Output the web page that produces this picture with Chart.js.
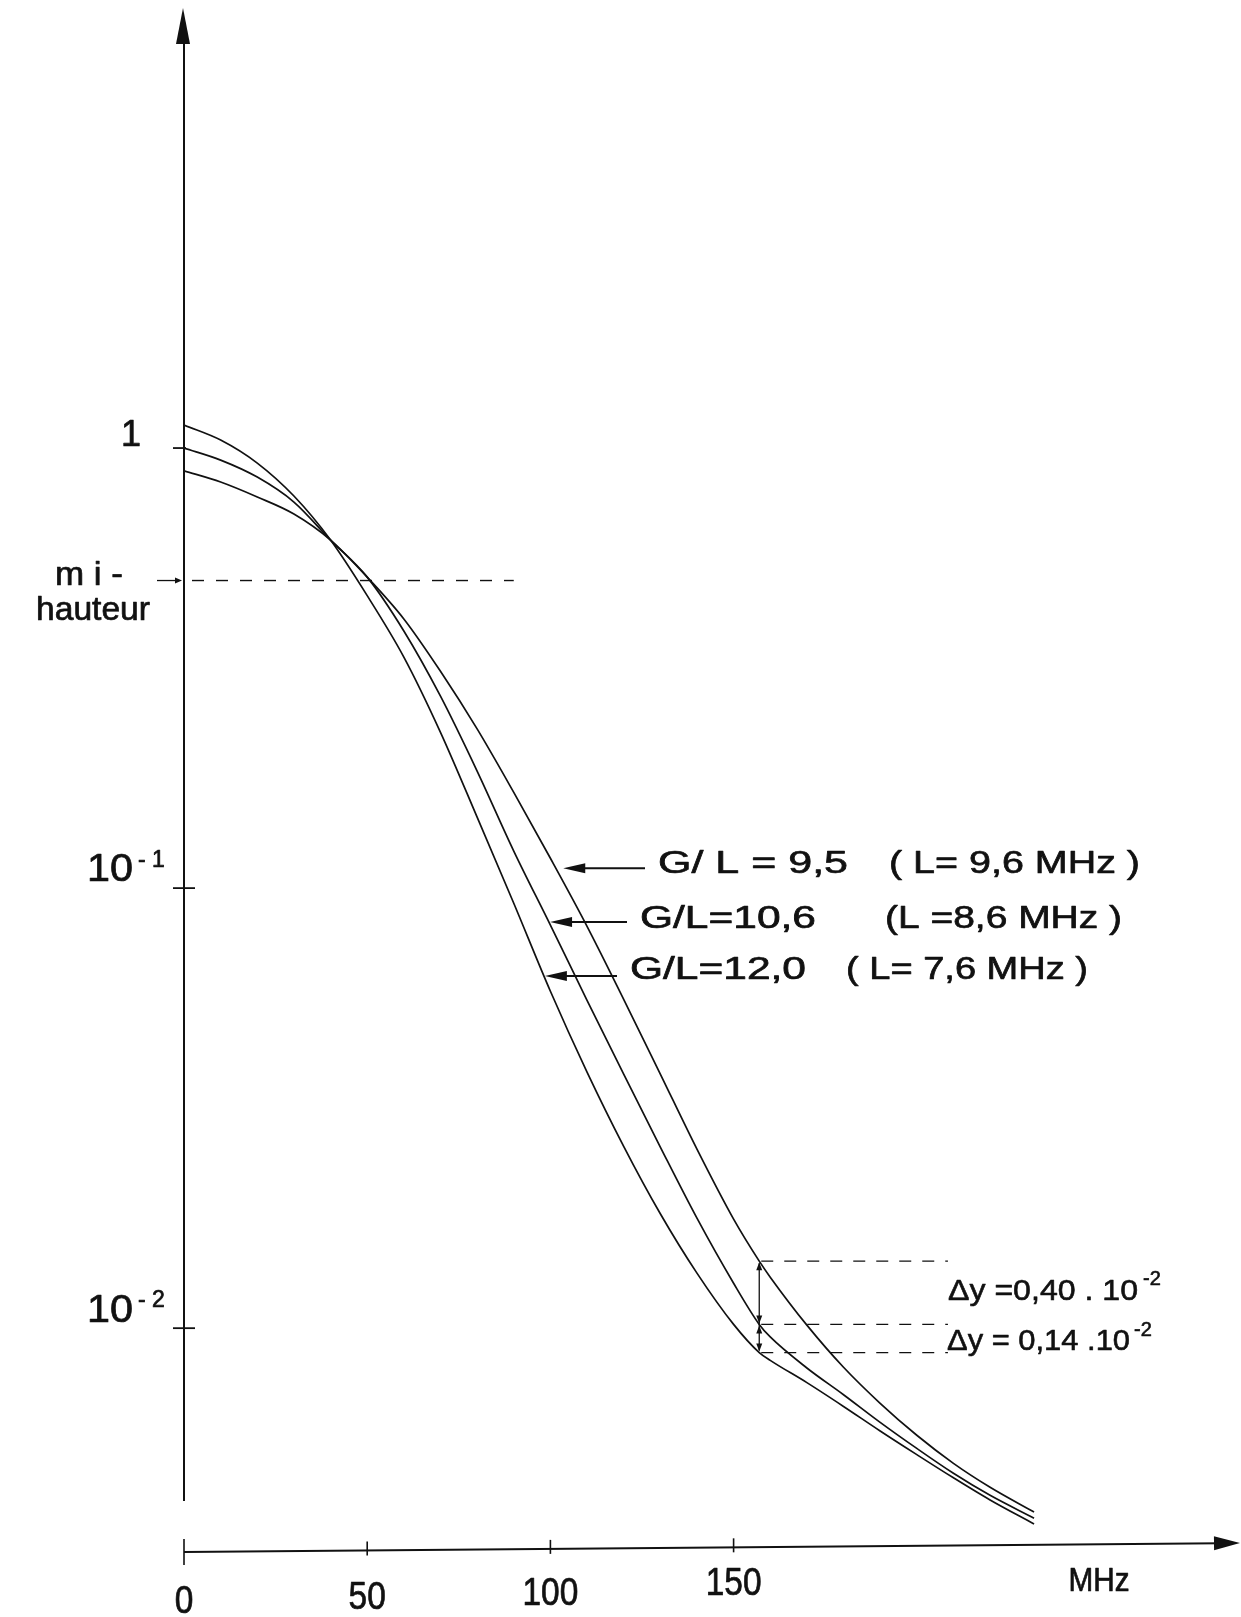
<!DOCTYPE html>
<html>
<head>
<meta charset="utf-8">
<script src="https://cdn.jsdelivr.net/npm/chart.js@4.4.1/dist/chart.umd.min.js"></script>
<style>
  html, body { margin: 0; padding: 0; background: #ffffff; }
  #wrap { width: 1241px; height: 1617px; position: relative; }
</style>
</head>
<body>
<div id="wrap"><canvas id="c"></canvas></div>
<script>
// Frequency grid (MHz) and normalised line-shape amplitude for the three G/L ratios
const freqMHz  = [0, 10, 20, 30, 40, 50, 60, 70, 80, 90, 100, 110, 120, 130, 140, 150, 157, 160, 170, 180, 190, 200, 210, 220, 232];
const ampGL95  = [0.888, 0.837, 0.774, 0.708, 0.618, 0.509, 0.409, 0.311, 0.230, 0.165, 0.1169, 0.0819, 0.0559, 0.0378, 0.02551, 0.01769, 0.0142, 0.01306, 0.01016, 0.00815, 0.00675, 0.00571, 0.00493, 0.00435, 0.00382];
const ampGL106 = [1.000, 0.939, 0.859, 0.754, 0.618, 0.509, 0.384, 0.273, 0.1845, 0.1214, 0.0824, 0.0556, 0.0378, 0.0258, 0.01778, 0.01265, 0.0102, 0.00955, 0.00812, 0.00706, 0.00611, 0.00533, 0.00468, 0.00417, 0.00370];
const ampGL120 = [1.128, 1.043, 0.9245, 0.778, 0.618, 0.462, 0.335, 0.226, 0.145, 0.0924, 0.0583, 0.0382, 0.0259, 0.0182, 0.01334, 0.0102, 0.0088, 0.00845, 0.00752, 0.00664, 0.00584, 0.00516, 0.00457, 0.00407, 0.00359];

// Series captions
const seriesRatio = ['G/ L = 9,5', 'G/L=10,6', 'G/L=12,0'];
const seriesWidth = ['( L= 9,6 MHz )', '(L =8,6 MHz )', '( L= 7,6 MHz )'];
// Point on each curve that its caption arrow touches: [MHz, amplitude]
const captionTipMHz = [103.5, 99.9, 98.5];
const captionTipAmp = [0.111, 0.0838, 0.0631];

// Axes
const xTickValues = [0, 50, 100, 150];
const xTickLabels = ['0', '50', '100', '150'];
const yTickValues = [1, 0.1, 0.01];
const yTickBase   = ['1', '10', '10'];
const yTickExp    = ['', '-1', '-2'];
const halfHeight = 0.5;

// Spread between the curves read at one frequency
const deltaMHz = 157;
const deltaText = ['Δy =0,40 . 10', 'Δy = 0,14 .10'];
const deltaExp = '-2';

const INK = '#111111';
const FONT = '"Liberation Sans", Arial, Helvetica, sans-serif';

function inkText(ctx, s, x, y) {
  ctx.fillText(s, x, y);
  ctx.strokeText(s, x, y);
}

function fitText(ctx, s, x, y, w, size) {
  ctx.save();
  ctx.font = size + 'px ' + FONT;
  const k = w / ctx.measureText(s).width;
  ctx.translate(x, y);
  ctx.scale(k, 1);
  ctx.textAlign = 'left';
  ctx.textBaseline = 'alphabetic';
  inkText(ctx, s, 0, 0);
  ctx.restore();
}

function arrowHead(ctx, tx, ty, dx, dy, len, half) {
  // tip at (tx,ty), pointing along (dx,dy)
  const n = Math.hypot(dx, dy); dx /= n; dy /= n;
  const bx = tx - dx * len, by = ty - dy * len;
  ctx.beginPath();
  ctx.moveTo(tx, ty);
  ctx.lineTo(bx - dy * half, by + dx * half);
  ctx.lineTo(bx + dy * half, by - dx * half);
  ctx.closePath();
  ctx.fill();
}

function valueAt(arr, f) {
  return arr[freqMHz.indexOf(f)];
}

const decorations = {
  id: 'decorations',
  afterDatasetsDraw(chart) {
    const { ctx, chartArea: a, scales: { x, y } } = chart;
    const X = v => x.getPixelForValue(v);
    const Y = v => y.getPixelForValue(v);
    const W = chart.width;
    const x0 = X(0);
    ctx.save();
    ctx.strokeStyle = INK;
    ctx.fillStyle = INK;
    ctx.lineCap = 'butt';
    ctx.lineJoin = 'round';

    // vertical axis with arrow
    ctx.lineWidth = 2;
    ctx.beginPath();
    ctx.moveTo(x0, a.top + 30);
    ctx.lineTo(x0, a.bottom - 51);
    ctx.stroke();
    arrowHead(ctx, x0 - 1, a.top, 0, -1, 36, 7);

    // horizontal axis with arrow (slight slope as drawn by hand)
    const axY = px => a.bottom - (px - x0) * 0.0085;
    ctx.beginPath();
    ctx.moveTo(x0, axY(x0));
    ctx.lineTo(W - 20, axY(W - 20));
    ctx.stroke();
    arrowHead(ctx, W - 1, axY(W - 1), 1, -0.0085, 26, 7);

    // x ticks and labels
    const rise = [0, 4, 8, 18];
    xTickValues.forEach((v, i) => {
      const px = X(v), py = axY(px);
      ctx.lineWidth = 1.6;
      ctx.beginPath();
      ctx.moveTo(px, py - (i === 0 ? 13 : 9));
      ctx.lineTo(px, py + (i === 0 ? 13 : 5));
      ctx.stroke();
      ctx.save();
      ctx.font = '38px ' + FONT;
      ctx.textAlign = 'center';
      ctx.lineWidth = 0.7;
      ctx.translate(px, a.bottom + 61 - rise[i]);
      ctx.scale(0.88, 1);
      inkText(ctx, xTickLabels[i], 0, 0);
      ctx.restore();
    });
    ctx.lineWidth = 0.7;
    ctx.save();
    ctx.font = '33px ' + FONT;
    ctx.textAlign = 'center';
    ctx.translate(1099, a.bottom + 39);
    ctx.scale(0.9, 1);
    inkText(ctx, 'MHz', 0, 0);
    ctx.restore();

    // y ticks and labels
    const drop = [-2, -7, -6];
    yTickValues.forEach((v, i) => {
      const py = Y(v);
      ctx.lineWidth = 1.8;
      ctx.beginPath();
      ctx.moveTo(x0 - 11, py);
      ctx.lineTo(x0 + (i === 0 ? 2 : 11), py);
      ctx.stroke();
      ctx.lineWidth = 0.7;
      ctx.font = '36px ' + FONT;
      if (yTickExp[i] === '') {
        ctx.textAlign = 'center';
        inkText(ctx, yTickBase[i], 131, py + drop[i]);
      } else {
        fitText(ctx, yTickBase[i], 87, py + drop[i], 46, 38);
        ctx.font = '23px ' + FONT;
        ctx.textAlign = 'left';
        inkText(ctx, yTickExp[i].replace('-', '- '), 138, py - 21);
      }
    });

    // half-height marker
    const yh = Y(halfHeight);
    ctx.lineWidth = 0.7;
    fitText(ctx, 'm i -', 55, yh + 4, 68, 33);
    fitText(ctx, 'hauteur', 36, yh + 39, 114, 33);
    ctx.lineWidth = 1.3;
    ctx.beginPath();
    ctx.moveTo(x0 - 27, yh);
    ctx.lineTo(x0 - 6, yh);
    ctx.stroke();
    arrowHead(ctx, x0 - 2, yh, 1, 0, 7, 3);
    ctx.setLineDash([12, 12]);
    ctx.lineWidth = 1.4;
    ctx.beginPath();
    ctx.moveTo(x0 + 8, yh);
    ctx.lineTo(X(90), yh);
    ctx.stroke();
    ctx.setLineDash([]);

    // captions with arrows
    const rowBase = [873, 928, 979];
    const rowX = [658, 640, 630];
    const rowW = [190, 176, 176];
    const noteX = [889, 885, 846];
    const noteW = [251, 237, 242];
    seriesRatio.forEach((s, i) => {
      ctx.lineWidth = 0.7;
      fitText(ctx, s, rowX[i], rowBase[i], rowW[i], 32);
      fitText(ctx, seriesWidth[i], noteX[i], rowBase[i], noteW[i], 32);
      const tx = X(captionTipMHz[i]), ty = Y(captionTipAmp[i]);
      ctx.lineWidth = 2;
      ctx.beginPath();
      ctx.moveTo(rowX[i] - 13, ty);
      ctx.lineTo(tx + 15, ty);
      ctx.stroke();
      arrowHead(ctx, tx, ty, -1, 0, 22, 5);
    });

    // spread between the curves at deltaMHz
    const xd = X(deltaMHz);
    const yTop = Y(valueAt(ampGL95, deltaMHz));
    const yMid = Y(valueAt(ampGL106, deltaMHz));
    const yBot = Y(valueAt(ampGL120, deltaMHz));
    ctx.lineWidth = 1.3;
    ctx.setLineDash([12, 11]);
    [yTop, yMid, yBot].forEach(py => {
      ctx.beginPath();
      ctx.moveTo(xd + 2, py);
      ctx.lineTo(X(208.5), py);
      ctx.stroke();
    });
    ctx.setLineDash([]);
    ctx.beginPath();
    ctx.moveTo(xd, yTop + 2);
    ctx.lineTo(xd, yBot - 2);
    ctx.stroke();
    arrowHead(ctx, xd, yTop + 1, 0, -1, 8, 3);
    arrowHead(ctx, xd, yMid - 1, 0, 1, 8, 3);
    arrowHead(ctx, xd, yMid + 1, 0, -1, 8, 3);
    arrowHead(ctx, xd, yBot - 1, 0, 1, 8, 3);

    ctx.lineWidth = 0.6;
    fitText(ctx, deltaText[0], 948, 1300, 190, 29);
    fitText(ctx, deltaText[1], 947, 1350, 183, 29);
    ctx.font = '20px ' + FONT;
    ctx.textAlign = 'left';
    inkText(ctx, deltaExp, 1143, 1285);
    inkText(ctx, deltaExp, 1134, 1336);

    ctx.restore();
  }
};

const mkSeries = arr => freqMHz.map((f, i) => ({ x: f, y: arr[i] }));

new Chart(document.getElementById('c'), {
  type: 'line',
  data: {
    datasets: [
      { label: 'G/L = 9,5',  data: mkSeries(ampGL95) },
      { label: 'G/L = 10,6', data: mkSeries(ampGL106) },
      { label: 'G/L = 12,0', data: mkSeries(ampGL120) }
    ]
  },
  options: {
    responsive: true,
    maintainAspectRatio: false,
    animation: false,
    devicePixelRatio: 1,
    layout: { padding: { left: 184, right: 141, top: 8, bottom: 65 } },
    plugins: { legend: { display: false }, tooltip: { enabled: false } },
    elements: {
      point: { radius: 0 },
      line: { borderWidth: 1.7, borderColor: INK, cubicInterpolationMode: 'monotone', fill: false }
    },
    scales: {
      x: { type: 'linear', min: 0, max: 250, display: false },
      y: { type: 'logarithmic', min: 0.0031, max: 10, display: false }
    }
  },
  plugins: [decorations]
});
</script>
</body>
</html>
